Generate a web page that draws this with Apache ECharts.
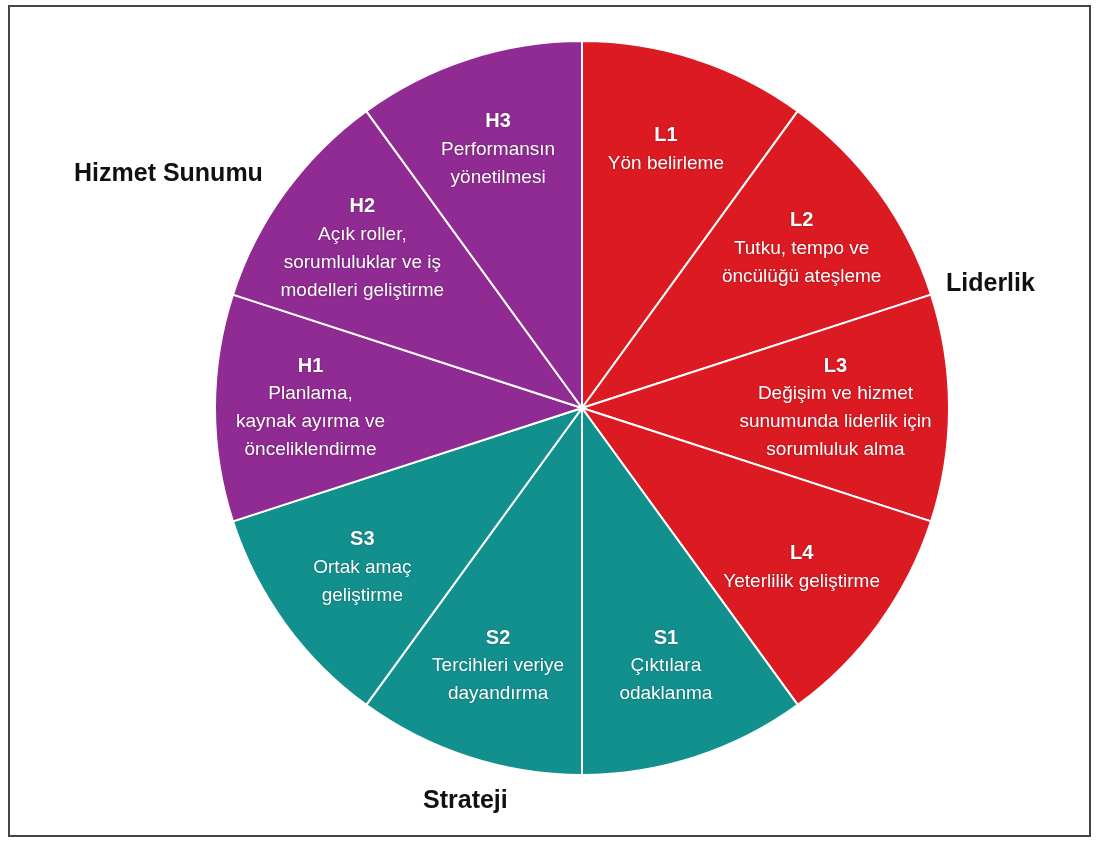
<!DOCTYPE html>
<html>
<head>
<meta charset="utf-8">
<script src="https://cdn.jsdelivr.net/npm/echarts@6/dist/echarts.min.js"></script>
<style>
  html, body { margin: 0; padding: 0; background: #fff; }
  #chart { width: 1097px; height: 841px; }
</style>
</head>
<body>
<div id="chart"></div>
<script>
// slices, clockwise from 12 o'clock
var codes = ['L1', 'L2', 'L3', 'L4', 'S1', 'S2', 'S3', 'H1', 'H2', 'H3']
var texts = [
  'Yön belirleme',
  'Tutku, tempo ve\nöncülüğü ateşleme',
  'Değişim ve hizmet\nsunumunda liderlik için\nsorumluluk alma',
  'Yeterlilik geliştirme',
  'Çıktılara\nodaklanma',
  'Tercihleri veriye\ndayandırma',
  'Ortak amaç\ngeliştirme',
  'Planlama,\nkaynak ayırma ve\nönceliklendirme',
  'Açık roller,\nsorumluluklar ve iş\nmodelleri geliştirme',
  'Performansın\nyönetilmesi'
]
var groups = ['L', 'L', 'L', 'L', 'S', 'S', 'S', 'H', 'H', 'H']
var values = [1, 1, 1, 1, 1, 1, 1, 1, 1, 1]
var groupNames = ['Hizmet Sunumu', 'Liderlik', 'Strateji']

var groupColors = { L: '#dc1a22', S: '#12908e', H: '#902b93' }
var FONT = '"Liberation Sans", Arial, sans-serif'

var chart = echarts.init(document.getElementById('chart'))

var pieData = codes.map(function (c, i) {
  return {
    name: c,
    value: values[i],
    itemStyle: { color: groupColors[groups[i]] }
  }
})

var labelData = codes.map(function (c, i) {
  var lbl = { formatter: '{t|' + c + '}\n{d|' + texts[i].split('\n').join('}\n{d|') + '}' }
  // L3 text sits a bit closer to the centre in the original
  if (c === 'L3') lbl.padding = [0, 36, 0, 0]
  return { name: c, value: values[i], label: lbl }
})

function groupText(txt, x, y) {
  return {
    type: 'text', x: x, y: y, silent: true,
    style: { text: txt, font: 'bold 25px ' + FONT, fill: '#111', verticalAlign: 'middle' }
  }
}

chart.setOption({
  animation: false,
  graphic: [
    {
      type: 'rect',
      shape: { x: 9, y: 6, width: 1081, height: 830 },
      style: { fill: 'none', stroke: '#444', lineWidth: 2 },
      silent: true
    },
    groupText(groupNames[0], 74, 174),
    groupText(groupNames[1], 946, 284),
    groupText(groupNames[2], 423, 801)
  ],
  series: [
    {
      type: 'pie',
      center: [582, 408],
      radius: [0, 367],
      startAngle: 90,
      clockwise: true,
      silent: true,
      label: { show: false },
      labelLine: { show: false },
      itemStyle: { borderColor: '#fff', borderWidth: 2 },
      emphasis: { disabled: true },
      data: pieData
    },
    {
      // transparent ring, only carries the slice texts
      type: 'pie',
      center: [582, 408],
      radius: [170, 367],
      startAngle: 90,
      clockwise: true,
      silent: true,
      itemStyle: { color: 'rgba(0,0,0,0)', borderWidth: 0 },
      emphasis: { disabled: true },
      labelLine: { show: false },
      label: {
        show: true,
        position: 'inside',
        rotate: 0,
        align: 'center',
        textShadowColor: 'rgba(0,0,0,0.35)',
        textShadowBlur: 2,
        rich: {
          t: { fontFamily: FONT, fontWeight: 'bold', fontSize: 20, color: '#fff', lineHeight: 28, align: 'center' },
          d: { fontFamily: FONT, fontSize: 19, color: '#fff', lineHeight: 28, align: 'center' }
        }
      },
      data: labelData
    }
  ]
})
</script>
</body>
</html>
